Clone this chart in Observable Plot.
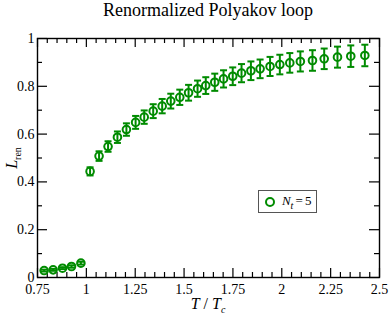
<!DOCTYPE html>
<html><head><meta charset="utf-8">
<script src="https://cdn.jsdelivr.net/npm/d3@7"></script>
<script src="https://cdn.jsdelivr.net/npm/@observablehq/plot@0.6"></script>
<style>
body{margin:0;background:#fff;}
#wrap{position:relative;width:389px;height:318px;font-family:"Liberation Serif","Times New Roman",serif;color:#000;}
#wrap svg{position:absolute;left:0;top:0;}
#title{position:absolute;left:37px;width:342px;top:-1px;text-align:center;font-size:18px;line-height:22px;}
#xlab{position:absolute;left:37px;width:342px;top:295px;text-align:center;font-size:16px;line-height:18px;}
#ylab{position:absolute;left:12px;top:158px;font-size:16px;line-height:18px;transform:translate(-50%,-50%) rotate(-90deg);white-space:nowrap;}
sub{font-size:10px;vertical-align:-4px;line-height:0;}
#legend{position:absolute;left:258px;top:190px;width:57px;height:21px;border:1px solid #555;background:#fff;font-size:13px;line-height:21px;white-space:nowrap;}
#legend svg{position:absolute;left:5px;top:5px;}
#legend span{position:absolute;left:23px;top:-1px;letter-spacing:-0.2px;}
</style></head>
<body>
<div id="wrap">
  <div id="title">Renormalized Polyakov loop</div>
  <div id="xlab"><i>T</i> / <i>T</i><sub><i>c</i></sub></div>
  <div id="ylab"><i>L</i><sub>ren</sub></div>
  <div id="legend"><svg width="12" height="12"><circle cx="6" cy="6" r="4" fill="none" stroke="#008b00" stroke-width="2"/></svg><span><i>N</i><sub><i>t</i></sub>&#8201;=&#8201;5</span></div>
</div>
<script>
const seriesName = "Nt = 5";
const T = [0.784, 0.830, 0.878, 0.924, 0.972,
  1.019, 1.065, 1.111, 1.159, 1.205, 1.252, 1.296, 1.342, 1.388, 1.432, 1.478, 1.523, 1.569, 1.611,
  1.657, 1.702, 1.749, 1.794, 1.842, 1.889, 1.940, 1.990, 2.041, 2.095, 2.157, 2.217, 2.285, 2.353, 2.425];
const L = [0.029, 0.032, 0.039, 0.046, 0.060,
  0.444, 0.508, 0.548, 0.587, 0.619, 0.649, 0.671, 0.696, 0.717, 0.738, 0.754, 0.773, 0.790, 0.803,
  0.817, 0.831, 0.842, 0.855, 0.865, 0.873, 0.883, 0.891, 0.898, 0.904, 0.908, 0.915, 0.922, 0.926, 0.929];
const err = [0.004, 0.004, 0.004, 0.005, 0.006,
  0.017, 0.020, 0.022, 0.024, 0.026, 0.027, 0.028, 0.029, 0.030, 0.031, 0.032, 0.033, 0.034, 0.035,
  0.036, 0.036, 0.037, 0.038, 0.039, 0.039, 0.040, 0.041, 0.041, 0.042, 0.043, 0.043, 0.044, 0.045, 0.045];
const xTicks = [0.75, 1, 1.25, 1.5, 1.75, 2, 2.25, 2.5];
const xTickLabels = ["0.75", "1", "1.25", "1.5", "1.75", "2", "2.25", "2.5"];
const yTicks = [0, 0.2, 0.4, 0.6, 0.8, 1];
const yTickLabels = ["0", "0.2", "0.4", "0.6", "0.8", "1"];
const xMinor = d3.range(0, 36).map(i => 0.75 + i * 0.05).filter(v => !xTicks.some(t => Math.abs(t - v) < 1e-6));
const yMinor = [0.1, 0.3, 0.5, 0.7, 0.9];

const data = T.map((t, i) => ({T: t, L: L[i], lo: L[i] - err[i], hi: L[i] + err[i]}));

const W = 389, H = 318, mt = 38, mb = 41, ml = 37, mr = 10;
const fw = W - ml - mr, fh = H - mt - mb;
const green = "#008b00";
const capSymbol = {draw(ctx, size) { const r = Math.sqrt(size / Math.PI); ctx.moveTo(-r, 0); ctx.lineTo(r, 0); }};

const chart = Plot.plot({
  width: W, height: H,
  marginTop: mt, marginBottom: mb, marginLeft: ml, marginRight: mr,
  style: {fontFamily: "'Liberation Serif','Times New Roman',serif", fontSize: "14px", background: "transparent", overflow: "visible"},
  x: {domain: [0.75, 2.5]},
  y: {domain: [0, 1]},
  marks: [
    Plot.axisX({ticks: xTicks, tickSize: 0, tickPadding: 7, tickFormat: d => xTickLabels[xTicks.indexOf(d)], label: null, fontSize: 14}),
    Plot.axisY({ticks: yTicks, tickSize: 0, tickPadding: 3, tickFormat: d => yTickLabels[yTicks.indexOf(d)], label: null, fontSize: 14}),
    // bottom/top ticks
    Plot.ruleX(xTicks, {x: d => d, insetTop: fh - 9, stroke: "#000", strokeWidth: 1.2}),
    Plot.ruleX(xTicks, {x: d => d, insetBottom: fh - 9, stroke: "#000", strokeWidth: 1.2}),
    Plot.ruleX(xMinor, {x: d => d, insetTop: fh - 5, stroke: "#000", strokeWidth: 1.2}),
    Plot.ruleX(xMinor, {x: d => d, insetBottom: fh - 5, stroke: "#000", strokeWidth: 1.2}),
    // left/right ticks
    Plot.ruleY(yTicks, {y: d => d, insetRight: fw - 10, stroke: "#000", strokeWidth: 1.2}),
    Plot.ruleY(yTicks, {y: d => d, insetLeft: fw - 10, stroke: "#000", strokeWidth: 1.2}),
    Plot.ruleY(yMinor, {y: d => d, insetRight: fw - 5, stroke: "#000", strokeWidth: 1.2}),
    Plot.ruleY(yMinor, {y: d => d, insetLeft: fw - 5, stroke: "#000", strokeWidth: 1.2}),
    // error bars
    Plot.ruleX(data, {x: "T", y1: "lo", y2: "hi", stroke: green, strokeWidth: 2}),
    Plot.dot(data, {x: "T", y: "lo", symbol: capSymbol, r: 3.5, stroke: green, strokeWidth: 2}),
    Plot.dot(data, {x: "T", y: "hi", symbol: capSymbol, r: 3.5, stroke: green, strokeWidth: 2}),
    Plot.dot(data, {x: "T", y: "L", r: 3.8, stroke: green, strokeWidth: 2, fill: "none"}),
    Plot.frame({stroke: "#000", strokeWidth: 1.4})
  ]
});
document.getElementById("wrap").insertBefore(chart, document.getElementById("wrap").firstChild);
</script>
</body></html>
